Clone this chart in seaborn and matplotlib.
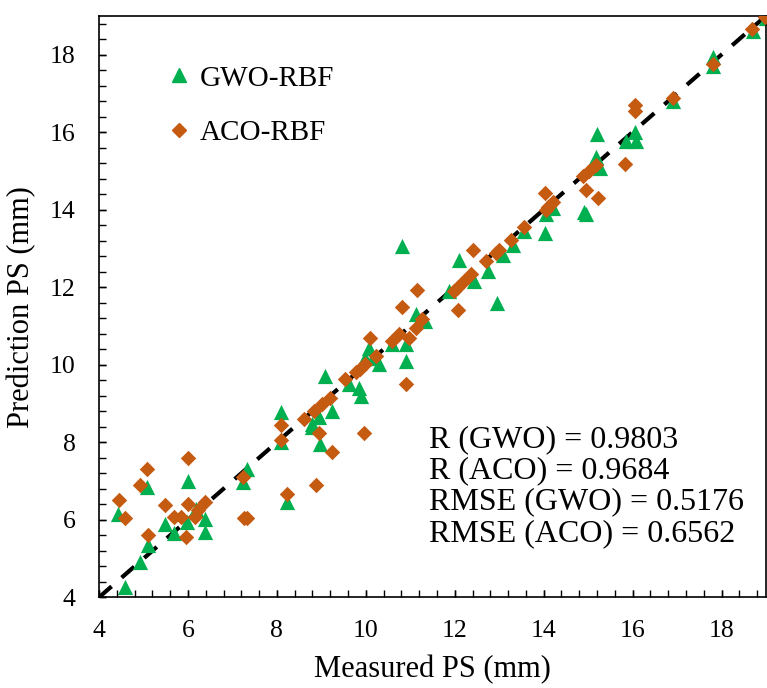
import numpy as np
import pandas as pd
import matplotlib
matplotlib.use("Agg")
import matplotlib.pyplot as plt
import seaborn as sns
from matplotlib.ticker import MultipleLocator
from matplotlib.lines import Line2D

# ---- data ----
gwo_measured = [4.43, 4.58, 4.93, 5.08, 5.10, 5.48, 5.69, 6.00, 5.97, 6.19, 6.38, 6.38,
                7.23, 7.32, 8.10, 8.10, 8.23, 8.79, 8.80, 8.94, 8.98, 9.24, 9.09, 9.62,
                9.84, 9.90, 9.99, 10.07, 10.16, 10.29, 10.59, 10.90, 10.90, 10.82, 11.12,
                11.34, 11.87, 12.10, 12.44, 12.74, 12.96, 13.08, 13.30, 13.56, 14.03,
                14.05, 14.20, 14.90, 14.95, 15.11, 15.26, 15.18, 15.20, 15.86, 16.08,
                16.06, 16.91, 17.80, 17.80, 18.70, 19.00]
gwo_predicted = [6.16, 4.27, 4.90, 6.85, 5.35, 5.90, 5.65, 7.00, 5.94, 6.28, 6.02, 5.68,
                 6.97, 7.31, 8.77, 8.00, 6.45, 8.47, 8.40, 8.64, 7.95, 8.81, 9.70, 9.50,
                 9.41, 9.20, 10.18, 10.44, 10.18, 10.01, 10.53, 10.53, 10.10, 13.05, 11.30,
                 11.13, 11.90, 12.70, 12.16, 12.41, 11.60, 12.84, 13.10, 13.45, 13.40,
                 13.90, 14.05, 13.95, 13.88, 15.16, 15.07, 15.37, 15.95, 15.76, 15.76,
                 16.01, 16.80, 17.95, 17.70, 18.60, 18.95]

aco_measured = [4.45, 4.58, 4.93, 5.08, 5.10, 5.48, 5.69, 5.85, 5.95, 6.00, 6.00, 6.16,
                6.23, 6.38, 7.23, 7.25, 7.33, 8.10, 8.10, 8.23, 8.60, 8.83, 8.87, 8.94,
                9.01, 9.20, 9.24, 9.54, 9.77, 9.88, 9.99, 9.96, 10.10, 10.22, 10.59, 10.75,
                10.82, 10.90, 10.97, 11.12, 11.14, 11.27, 11.99, 12.06, 12.08, 12.21,
                12.36, 12.41, 12.70, 12.93, 13.00, 13.26, 13.56, 14.04, 14.09, 14.20,
                14.05, 14.88, 14.96, 15.03, 15.18, 15.22, 15.84, 16.05, 16.05, 16.91,
                17.81, 18.68, 18.97]
aco_predicted = [6.52, 6.05, 6.90, 7.30, 5.60, 6.37, 6.07, 6.06, 5.55, 7.60, 6.42, 6.07,
                 6.24, 6.45, 7.10, 6.05, 6.05, 8.45, 8.06, 6.67, 8.60, 8.81, 6.90, 8.25,
                 8.98, 9.15, 7.74, 9.63, 9.80, 9.90, 10.01, 8.24, 10.70, 10.23, 10.61, 10.80,
                 11.49, 9.50, 10.70, 10.95, 11.94, 11.17, 11.90, 11.98, 11.42, 12.16,
                 12.33, 12.95, 12.67, 12.88, 12.97, 13.23, 13.55, 14.43, 14.08, 14.20,
                 14.00, 14.86, 14.50, 14.99, 15.16, 14.30, 15.18, 16.70, 16.55, 16.87,
                 17.77, 18.65, 18.97]

series_names = ["GWO-RBF", "ACO-RBF"]
stats_lines = ["R (GWO) = 0.9803", "R (ACO) = 0.9684",
               "RMSE (GWO) = 0.5176", "RMSE (ACO) = 0.6562"]
tick_values = [4, 6, 8, 10, 12, 14, 16, 18]
axis_limits = [4, 19]

GREEN = "#00B050"
ORANGE = "#C55A11"
FONT = ["Liberation Serif", "DejaVu Serif"]

df = pd.DataFrame({
    "measured": gwo_measured + aco_measured,
    "predicted": gwo_predicted + aco_predicted,
    "model": [series_names[0]] * len(gwo_measured) + [series_names[1]] * len(aco_measured),
})

sns.set_theme(style="ticks")
plt.rcParams["font.family"] = FONT
plt.rcParams.update({
    "text.color": "black", "axes.labelcolor": "black",
    "axes.axisbelow": False,
    "xtick.direction": "in", "ytick.direction": "in",
    "xtick.major.size": 5, "ytick.major.size": 5,
    "xtick.minor.size": 4.5, "ytick.minor.size": 4.5,
    "xtick.major.width": 1, "ytick.major.width": 1,
    "xtick.minor.width": 1, "ytick.minor.width": 1,
    "xtick.color": "black", "ytick.color": "black",
    "xtick.minor.visible": True, "ytick.minor.visible": True,
    "xtick.labelsize": 18.5, "ytick.labelsize": 18.5,
    "xtick.major.pad": 16, "ytick.major.pad": 17,
})

fig = plt.figure(figsize=(7.67, 6.88), dpi=100)
ax = fig.add_axes([0.1291, 0.1318, 0.8696, 0.8452])
ax.set_axisbelow(False)

# 1:1 dashed line
ax.plot(axis_limits, axis_limits, color="black", lw=3, dashes=(4, 3.2), zorder=1,
        solid_capstyle="butt")

sns.scatterplot(data=df[df.model == series_names[0]], x="measured", y="predicted",
                marker="^", color=GREEN, s=120, linewidth=0, ax=ax, zorder=2, legend=False)
sns.scatterplot(data=df[df.model == series_names[1]], x="measured", y="predicted",
                marker="D", color=ORANGE, s=62, linewidth=0, ax=ax, zorder=3, legend=False)

ax.set_xlim(axis_limits)
ax.set_ylim(axis_limits)
ax.set_xticks(tick_values)
ax.set_yticks(tick_values)
ax.xaxis.set_minor_locator(MultipleLocator(0.4))
ax.yaxis.set_minor_locator(MultipleLocator(0.4))
ax.xaxis.remove_overlapping_locs = False
ax.yaxis.remove_overlapping_locs = False
ax.tick_params(axis="both", which="both", direction="in", color="black",
               bottom=True, left=True, top=False, right=False)
ax.xaxis.set_zorder(6)
ax.yaxis.set_zorder(6)

for side, sp in ax.spines.items():
    sp.set_visible(True)
    sp.set_color("black")
    sp.set_linewidth(1.2)

ax.set_xlabel("Measured PS (mm)", fontsize=22, family=FONT, labelpad=10, color="black")
ax.set_ylabel("Prediction PS (mm)", fontsize=22, family=FONT, labelpad=10, color="black")

handles = [
    Line2D([], [], marker="^", color=GREEN, linestyle="none", markersize=10),
    Line2D([], [], marker="D", color=ORANGE, linestyle="none", markersize=7),
]
ax.legend(handles, series_names, loc="upper left", bbox_to_anchor=(0.09, 0.935),
          frameon=False, prop={"family": FONT, "size": 21}, handlelength=0.6,
          handletextpad=0.4, labelspacing=0.95, borderaxespad=0)

ax.text(0.495, 0.296, "\n".join(stats_lines), transform=ax.transAxes, fontsize=23,
        family=FONT, va="top", ha="left", linespacing=1.1, color="black")

# materialise the ticks and make their marks explicit
fig.canvas.draw()
for axis in (ax.xaxis, ax.yaxis):
    for t in axis.get_major_ticks() + axis.get_minor_ticks():
        t.tick1line.set_visible(True)
        t.tick1line.set_color("black")
        t.tick1line.set_markeredgecolor("black")
        t.tick1line.set_markersize(5)
        t.tick1line.set_markeredgewidth(1)
        t.tick1line.set_zorder(10)
    for lab in axis.get_ticklabels():
        lab.set_family(FONT)
        lab.set_color("black")

fig.savefig("out.png", dpi=100)
